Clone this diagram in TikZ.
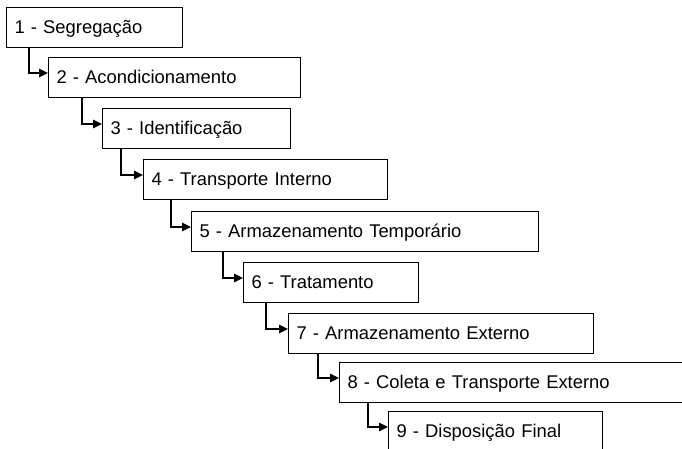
\documentclass[tikz,border=0pt]{standalone}
\usepackage{fontspec}
\setmainfont{Liberation Sans}
\usetikzlibrary{arrows.meta}

\begin{document}
\begin{tikzpicture}[x=1pt,y=-1pt,->,>={Triangle[length=9pt,width=8.5pt]},
                    line width=1.1pt]
  \tikzstyle{etapa}=[rectangle,draw=black,text=black,anchor=north west,minimum height=40pt,
                     inner xsep=8pt,align=left,text height=14pt,text depth=3pt,
                     font=\fontsize{18.4}{21}\selectfont]
  \useasboundingbox (0,0) rectangle (682,448);

  \node[etapa, text width=160pt] (S1) at (6,7)     {1 - Segregação};
  \node[etapa, text width=236pt] (S2) at (48,57)   {2 - Acondicionamento};
  \node[etapa, text width=172pt] (S3) at (102,108) {3 - Identificação};
  \node[etapa, text width=228pt] (S4) at (143,159) {4 - Transporte Interno};
  \node[etapa, text width=331pt] (S5) at (191,211) {5 - Armazenamento Temporário};
  \node[etapa, text width=159pt] (S6) at (243,262) {6 - Tratamento};
  \node[etapa, text width=289pt] (S7) at (288,313) {7 - Armazenamento Externo};
  \node[etapa, text width=344pt] (S8) at (339,362) {8 - Coleta e Transporte Externo};
  \node[etapa, text width=198pt] (S9) at (388,411) {9 - Disposição Final};

  \draw ([xshift=23pt]S1.south west) |- ([yshift=-16pt]S2.north west);
  \draw ([xshift=34pt]S2.south west) |- ([yshift=-16pt]S3.north west);
  \draw ([xshift=19pt]S3.south west) |- ([yshift=-16pt]S4.north west);
  \draw ([xshift=28pt]S4.south west) |- ([yshift=-16pt]S5.north west);
  \draw ([xshift=32pt]S5.south west) |- ([yshift=-16pt]S6.north west);
  \draw ([xshift=23pt]S6.south west) |- ([yshift=-16pt]S7.north west);
  \draw ([xshift=30pt]S7.south west) |- ([yshift=-16pt]S8.north west);
  \draw ([xshift=29pt]S8.south west) |- ([yshift=-16pt]S9.north west);
\end{tikzpicture}
\end{document}
